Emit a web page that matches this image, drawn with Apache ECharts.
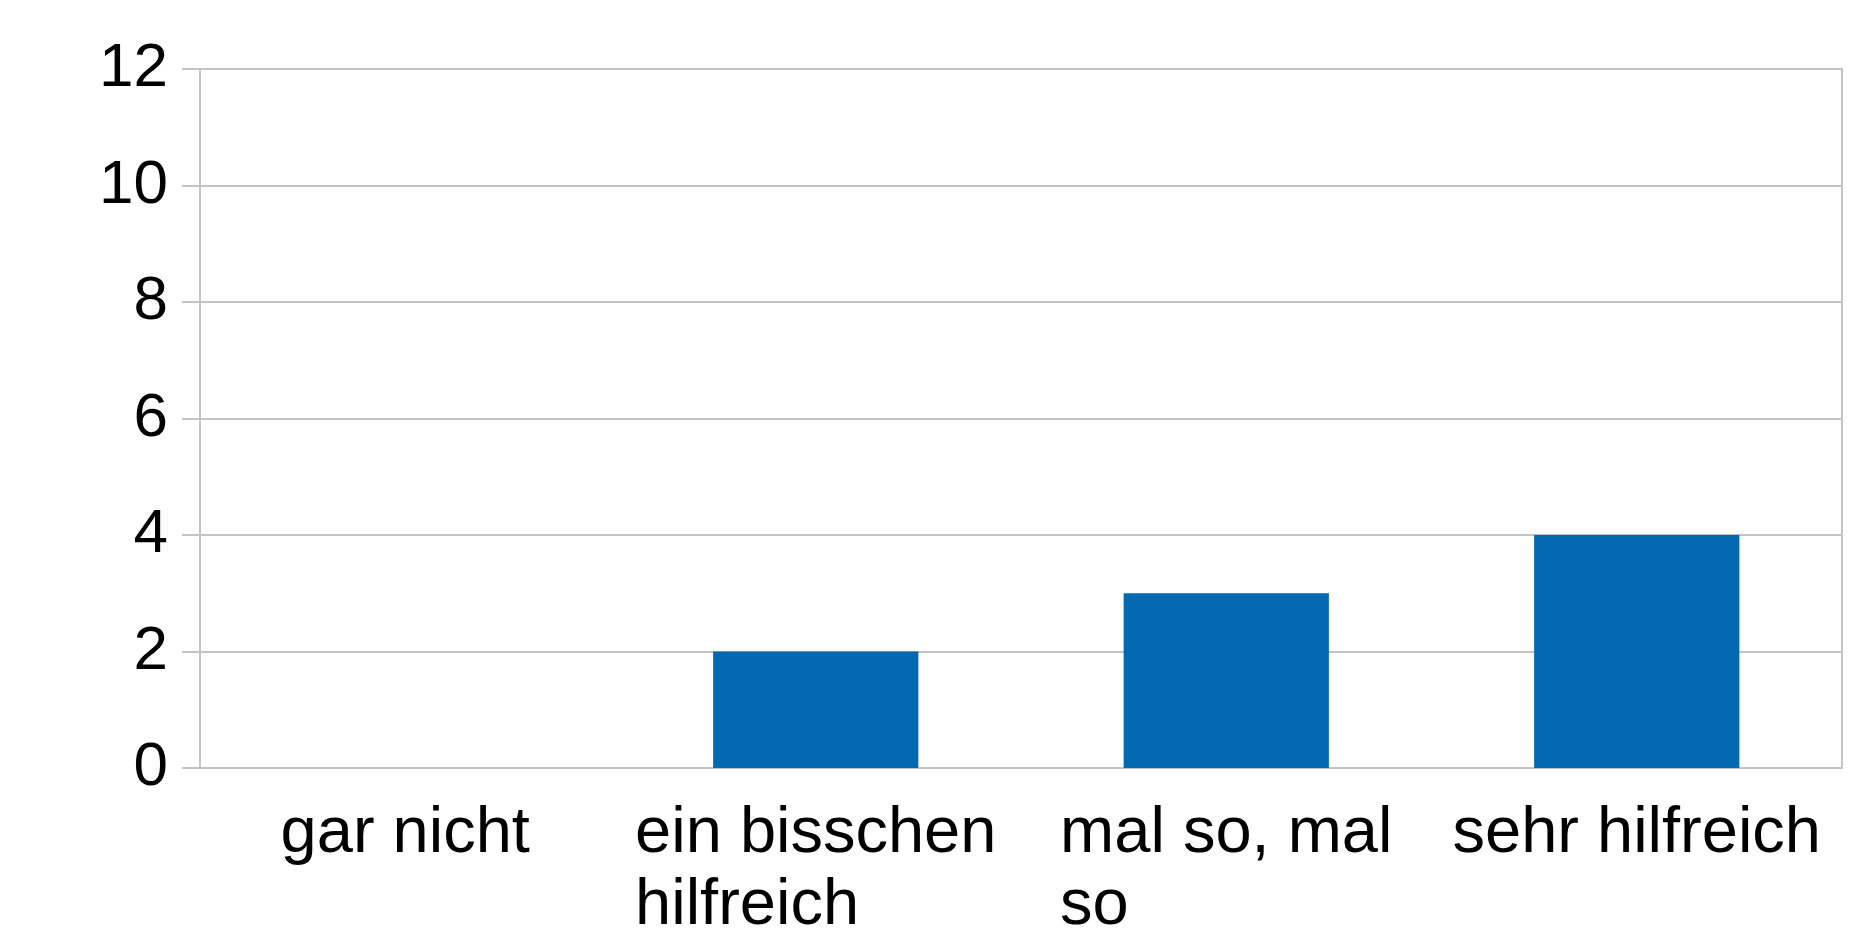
<!DOCTYPE html>
<html>
<head>
<meta charset="utf-8">
<script src="https://cdn.jsdelivr.net/npm/echarts@6/dist/echarts.min.js"></script>
<style>
  html, body { margin: 0; padding: 0; background: #fff; }
  #main { width: 1875px; height: 928px; }
</style>
</head>
<body>
<div id="main"></div>
<script>
var categories = ["gar nicht", "ein bisschen hilfreich", "mal so, mal so", "sehr hilfreich"];
var counts = [0, 2, 3, 4];
var yTicks = [0, 2, 4, 6, 8, 10, 12];

var labelFont = "65px 'Liberation Sans'";
var gridColor = "#c4c4c4";

// wrap category text into lines no wider than maxW
var ctx = document.createElement("canvas").getContext("2d");
ctx.font = labelFont;
function wrap(text, maxW) {
  var words = text.split(" ");
  var lines = [];
  var cur = "";
  words.forEach(function (w) {
    var t = cur ? cur + " " + w : w;
    if (cur && ctx.measureText(t).width > maxW) {
      lines.push(cur);
      cur = w;
    } else {
      cur = t;
    }
  });
  if (cur) lines.push(cur);
  return lines;
}

var myChart = echarts.init(document.getElementById("main"));
myChart.setOption({
  animation: false,
  grid: {
    left: 200,
    right: 33,
    top: 69,
    bottom: 160,
    outerBoundsMode: "none",
    containLabel: false,
    show: true,
    borderColor: gridColor,
    borderWidth: 2
  },
  xAxis: {
    type: "category",
    data: categories,
    axisLine: { lineStyle: { color: gridColor, width: 2 } },
    axisTick: { length: 17, lineStyle: { color: gridColor, width: 2 } },
    axisLabel: {
      interval: 0,
      margin: 30,
      color: "#000",
      fontFamily: "Liberation Sans",
      fontSize: 65,
      lineHeight: 72,
      formatter: function (v) {
        return wrap(v, 400).map(function (l) { return "{l|" + l + "}"; }).join("\n");
      },
      rich: {
        l: { align: "left", fontFamily: "Liberation Sans", fontSize: 65, lineHeight: 72, color: "#000" }
      }
    }
  },
  yAxis: {
    type: "value",
    min: yTicks[0],
    max: yTicks[yTicks.length - 1],
    interval: 2,
    axisLine: { show: true, lineStyle: { color: gridColor, width: 2 } },
    axisTick: { show: true, length: 18, lineStyle: { color: gridColor, width: 2 } },
    splitLine: { lineStyle: { color: gridColor, width: 2 } },
    axisLabel: {
      margin: 32,
      color: "#000",
      fontFamily: "Liberation Sans",
      fontSize: 62
    }
  },
  series: [
    {
      type: "bar",
      data: counts,
      barWidth: "50%",
      itemStyle: { color: "#0369b1" }
    }
  ]
});
</script>
</body>
</html>
